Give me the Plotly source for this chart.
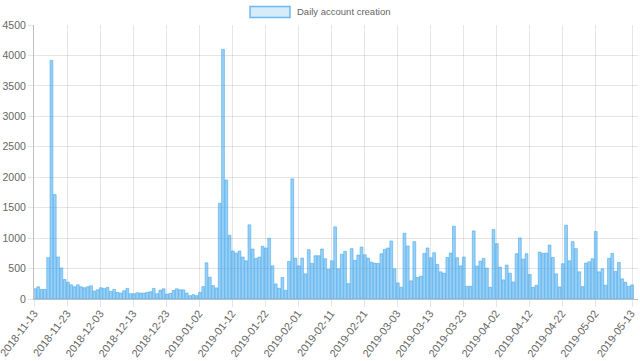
import pandas as pd
import plotly.graph_objects as go

start_date = "2018-11-13"
daily_accounts = [
    168, 201, 157, 157, 679, 3920, 1715, 690, 510, 320,
    277, 233, 201, 233, 201, 185, 201, 217, 130, 152,
    185, 174, 190, 125, 157, 109, 98, 136, 174, 87,
    87, 103, 98, 98, 109, 119, 174, 87, 147, 168,
    81, 92, 141, 168, 152, 150, 99, 55, 72, 55,
    110, 204, 595, 358, 220, 182, 1570, 4100, 1955, 1047,
    788, 755, 788, 689, 628, 1218, 821, 667, 689, 865,
    838, 997, 545, 248, 176, 353, 143, 617, 1973, 672,
    545, 672, 413, 810, 584, 711, 711, 821, 661, 490,
    628, 1185, 496, 733, 782, 253, 827, 634, 722, 854,
    727, 672, 606, 590, 584, 744, 815, 838, 953, 496,
    264, 193, 1080, 871, 298, 942, 353, 375, 749, 838,
    678, 760, 568, 446, 424, 683, 755, 1196, 678, 545,
    689, 209, 209, 1119, 540, 623, 667, 507, 193, 1141,
    909, 523, 314, 557, 424, 281, 744, 1003, 656, 744,
    402, 193, 226, 771, 749, 755, 887, 683, 413, 198,
    579, 1212, 628, 942, 827, 446, 204, 590, 612, 661,
    1108, 446, 496, 226, 667, 749, 452, 601, 331, 276,
    209, 231,
]
tick_labels = [
    "2018-11-13", "2018-11-23", "2018-12-03", "2018-12-13", "2018-12-23",
    "2019-01-02", "2019-01-12", "2019-01-22", "2019-02-01", "2019-02-11",
    "2019-02-21", "2019-03-03", "2019-03-13", "2019-03-23", "2019-04-02",
    "2019-04-12", "2019-04-22", "2019-05-02", "2019-05-13",
]
y_ticks = list(range(0, 4501, 500))
series_name = "Daily account creation"

dates = pd.date_range(start_date, periods=len(daily_accounts), freq="D")

FONT = "Liberation Sans, Arial, sans-serif"
GREY = "#666666"

fig = go.Figure()
fig.add_trace(go.Bar(
    x=dates, y=daily_accounts, name=series_name,
    marker=dict(color="rgba(54,162,235,0.5)",
                line=dict(color="rgba(54,162,235,0.85)", width=0.6)),
    showlegend=False,
))

fig.update_layout(
    width=640, height=361,
    margin=dict(l=34, r=2, t=25, b=62),
    paper_bgcolor="white", plot_bgcolor="white",
    bargap=0.15,
    font=dict(family=FONT, size=10.5, color=GREY),
    xaxis=dict(
        type="date",
        automargin=False,
        range=[pd.Timestamp(start_date) - pd.Timedelta(hours=7),
               pd.Timestamp(start_date) + pd.Timedelta(days=182.8)],
        tickmode="array",
        tickvals=[pd.Timestamp(t) for t in tick_labels],
        ticktext=tick_labels,
        tickangle=-53,
        ticklabeloverflow="allow",
        ticklabelstandoff=-4,
        ticklabelshift=-1,
        showgrid=True, gridcolor="rgba(0,0,0,0.1)", gridwidth=1,
        ticks="outside", ticklen=7, tickcolor="rgba(0,0,0,0.1)",
        showline=True, linecolor="rgba(0,0,0,0.25)", linewidth=1,
        tickfont=dict(family=FONT, size=10.8, color=GREY),
        fixedrange=True,
    ),
    yaxis=dict(
        automargin=False,
        range=[0, 4500],
        tickmode="array", tickvals=y_ticks,
        showgrid=True, gridcolor="rgba(0,0,0,0.1)", gridwidth=1,
        ticks="outside", ticklen=5, tickcolor="rgba(0,0,0,0.1)",
        showline=True, linecolor="rgba(0,0,0,0.25)", linewidth=1,
        zeroline=False,
        tickfont=dict(family=FONT, size=10.5, color=GREY),
        fixedrange=True,
    ),
    shapes=[dict(
        type="rect", xref="paper", yref="paper",
        x0=(250 - 34) / 604, x1=(290 - 34) / 604,
        y0=(299 - 17.5) / 274, y1=(299 - 6.5) / 274,
        fillcolor="rgba(54,162,235,0.2)",
        line=dict(color="rgba(54,162,235,0.7)", width=1.5),
    )],
    annotations=[dict(
        text=series_name, xref="paper", yref="paper",
        x=(295 - 34) / 604, y=(299 - 12) / 274,
        xanchor="left", yanchor="middle", showarrow=False,
        font=dict(family=FONT, size=9.5, color=GREY),
    )],
)

fig.write_html("out.html", config={"displayModeBar": False},
               post_script="document.body.style.margin='0';")
